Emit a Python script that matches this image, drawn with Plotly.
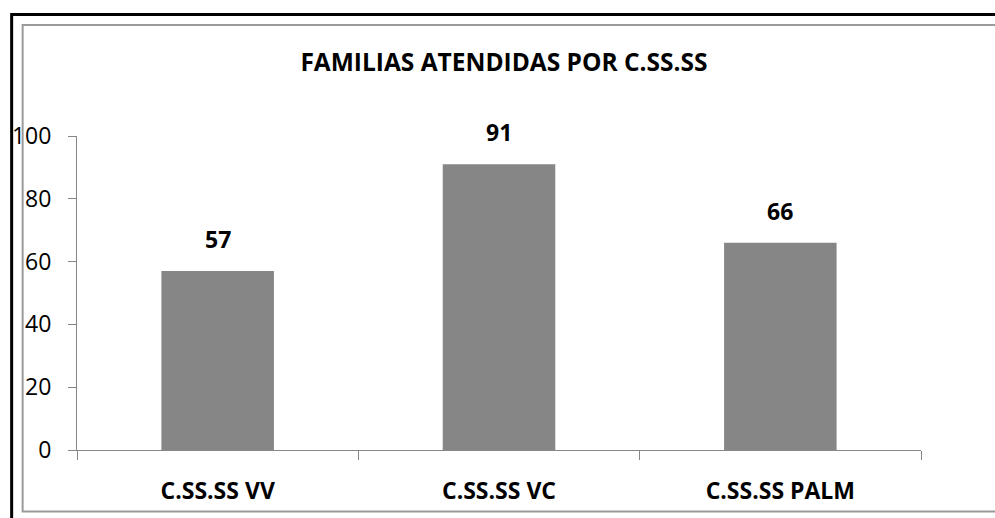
import plotly.graph_objects as go

categories = ["C.SS.SS VV", "C.SS.SS VC", "C.SS.SS PALM"]
values = [57, 91, 66]
y_ticks = [0, 20, 40, 60, 80, 100]
title_text = "FAMILIAS ATENDIDAS POR C.SS.SS"

W, H = 995, 518
L, R, T, B = 75, 74, 136, 68
pw, ph = W - L - R, H - T - B

def px_x(p):
    return (p - L) / pw

def px_y(p):
    return (H - B - p) / ph

FONT = "Open Sans"

fig = go.Figure()
fig.add_trace(go.Bar(
    x=categories, y=values, width=0.4,
    marker=dict(color="#868686", line=dict(width=0)),
    hoverinfo="x+y",
))

for c, v in zip(categories, values):
    fig.add_annotation(x=c, y=v, text=f"<b>{v}</b>", showarrow=False,
                       yanchor="bottom", yshift=14,
                       font=dict(family=FONT, size=23, color="#000"))

fig.update_layout(
    width=W, height=H,
    margin=dict(l=L, r=R, t=T, b=B, pad=0),
    paper_bgcolor="white", plot_bgcolor="white",
    showlegend=False,
    font=dict(family=FONT, color="#000"),
    title=dict(text=f"<b>{title_text}</b>", x=0.5065, xanchor="center",
               y=1 - 62 / H, yanchor="middle",
               font=dict(family=FONT, size=24.5, color="#000")),
    bargap=0.6,
)

fig.update_xaxes(
    type="category", showline=True, linecolor="#868686", linewidth=1,
    ticks="outside", ticklen=9, tickcolor="#868686", tickson="boundaries",
    showgrid=False, tickfont=dict(family=FONT, size=23, color="#000"),
    tickprefix="<b>", ticksuffix="</b>", ticklabelstandoff=20,
)
fig.update_yaxes(
    range=[0, 100], tickvals=y_ticks, showline=True, linecolor="#868686",
    linewidth=1, ticks="outside", ticklen=8, tickcolor="#868686",
    showgrid=False, zeroline=False,
    tickfont=dict(family=FONT, size=23, color="#000"), ticklabelstandoff=12,
)

# outer frames drawn as one open path (left, top, bottom of gray frame)
fig.add_shape(type="path", xref="paper", yref="paper",
              path=(f"M {px_x(1000)} {px_y(25)} L {px_x(20.5)} {px_y(25)} "
                    f"L {px_x(20.5)} {px_y(511.5)} L {px_x(1000)} {px_y(511.5)}"),
              line=dict(color="#9a9a9a", width=2), layer="below")
fig.add_shape(type="path", xref="paper", yref="paper",
              path=(f"M {px_x(9.5)} {px_y(525)} L {px_x(9.5)} {px_y(14.5)} "
                    f"L {px_x(1000)} {px_y(14.5)}"),
              line=dict(color="#000", width=3))

fig.write_html("out.html", config={"displayModeBar": False},
               post_script="document.body.style.margin='0';document.body.style.overflow='hidden';")
